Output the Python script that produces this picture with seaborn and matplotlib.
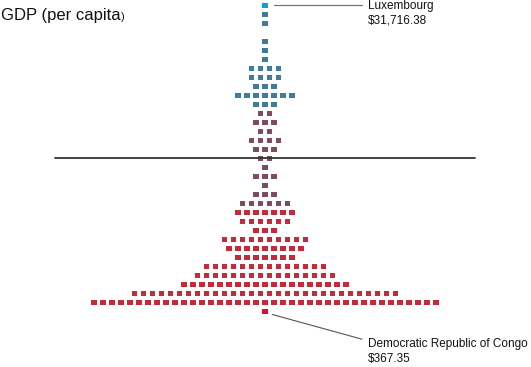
import matplotlib
matplotlib.use('Agg')
import matplotlib.pyplot as plt
import pandas as pd
import seaborn as sns

# squares per row, top (richest) to bottom (poorest)
row_counts = [1, 1, 1, 0, 1, 1, 1, 4, 4, 3, 7, 3,
              2, 3, 2, 4, 3, 2, 1, 3, 1, 3, 6,
              7, 6, 3, 10, 9, 7, 14, 16, 19, 30, 39, 1]
row_groups = ['top'] + ['high'] * 11 + ['mid'] * 11 + ['low'] * 11 + ['bottom']
palette = {'top': '#1b9bd1', 'high': '#3f7b9b', 'mid': '#7f4b62',
           'low': '#c52a3a', 'bottom': '#e30f27'}

richest = 'Luxembourg'
richest_gdp = '$31,716.38'
poorest = 'Democratic Republic of Congo'
poorest_gdp = '$367.35'
median_row = 17

# build one record per country: row index and slot within row
recs = []
for r, (n, g) in enumerate(zip(row_counts, row_groups)):
    for j in range(n):
        recs.append({'row': r, 'slot': j - (n - 1) / 2, 'group': g})
df = pd.DataFrame(recs)

sns.set_style('white')
plt.rcParams['font.family'] = ['Liberation Sans', 'DejaVu Sans']

fig = plt.figure(figsize=(5.31, 3.67), dpi=100)
ax = fig.add_axes([0, 0, 1, 1])
sns.scatterplot(data=df, x='slot', y='row', hue='group', palette=palette,
                marker='s', s=14, linewidth=0, legend=False, ax=ax, zorder=2)

# pixel-ish layout: 9px per slot, centred at x=265, first row at y=5.3
ax.set_xlim(-265 / 9, (531 - 265) / 9)
ax.set_ylim((367 - 5.3) / 9, -5.3 / 9)
ax.axis('off')

ax.plot([(55 - 265) / 9, (475 - 265) / 9], [median_row, median_row],
        color='#333333', lw=1.3, zorder=3)

# leader lines + labels
tx = (368 - 265) / 9
ax.plot([1.0, (362 - 265) / 9], [0, 0], color='#777777', lw=0.9)
ax.text(tx, 0.1, richest, fontsize=8.5, va='center', ha='left', color='#111111')
ax.text(tx, 1.65, richest_gdp, fontsize=8.5, va='center', ha='left', color='#111111')

last = len(row_counts) - 1
ax.plot([0.8, (362 - 265) / 9], [last + 0.35, last + 3.1], color='#555555', lw=0.8)
ax.text(tx, last + 3.6, poorest, fontsize=8.5, va='center', ha='left', color='#111111')
ax.text(tx, last + 5.35, poorest_gdp, fontsize=8.5, va='center', ha='left', color='#111111')

title = fig.text(0.002, 1 - 20 / 367, 'GDP (per capita', fontsize=12, ha='left',
                 va='baseline', color='#111111')
fig.canvas.draw()
bb = title.get_window_extent()
fig.text(bb.x1 / fig.bbox.width + 0.001, 1 - 20 / 367, ')', fontsize=8, ha='left',
         va='baseline', color='#111111')

fig.savefig('out.png', dpi=100)
